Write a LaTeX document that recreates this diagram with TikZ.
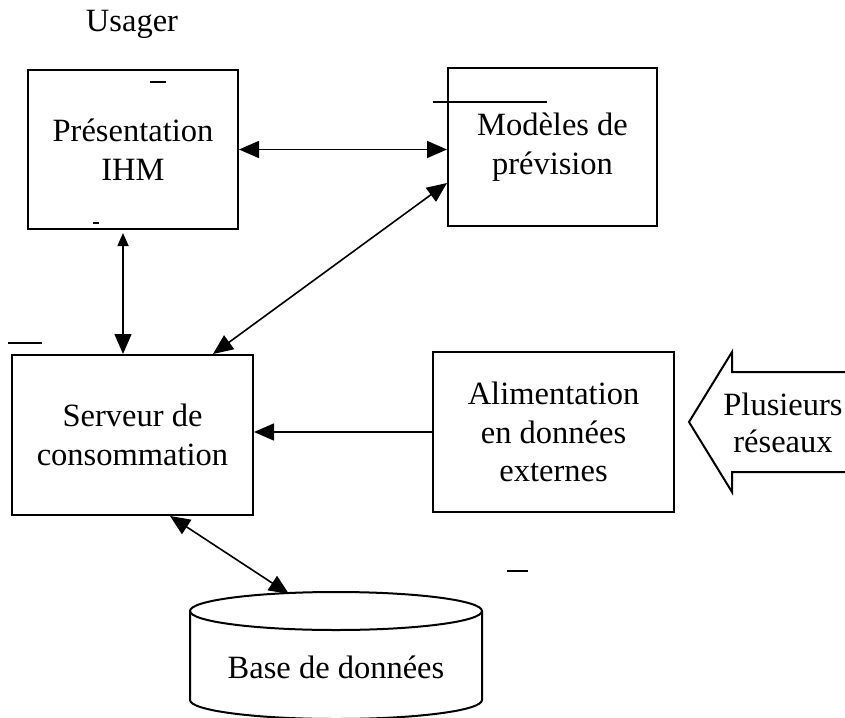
\documentclass[tikz,border=0pt]{standalone}
\usepackage{fontspec}
\setmainfont{Liberation Serif}
\usetikzlibrary{arrows.meta,calc}
\begin{document}
\begin{tikzpicture}[x=1pt,y=-1pt,
  box/.style={draw, line width=2pt, inner sep=0pt, align=center,
    font=\fontsize{32.5}{38.5}\selectfont},
  label/.style={inner sep=0pt, align=center, font=\fontsize{32.5}{37}\selectfont},
  conn/.style={line width=1.6pt},
  bigtip/.tip={Triangle[length=20pt,width=17pt]},
  smalltip/.tip={Triangle[length=13pt,width=11pt]},
  speck/.style={line width=1.4pt}]

\useasboundingbox (0,0) rectangle (845,717);
\clip (0,0) rectangle (845,717);

% title
\node[label, anchor=base] (usager) at (132,32) {Usager};

% boxes
\node[box, minimum width=210pt, minimum height=159pt] (pres) at (133,149.5)
  {Présentation\\IHM};
\node[box, minimum width=209pt, minimum height=158pt] (mod) at (552.5,147)
  {Modèles de\\prévision};
\node[box, minimum width=241pt, minimum height=160pt] (serv) at (132.5,435)
  {Serveur de\\consommation};
\node[box, minimum width=241pt, minimum height=160pt] (alim) at (553.5,432)
  {Alimentation\\en données\\externes};

% database cylinder
\draw[line width=2pt] (336,611) ellipse [x radius=146pt, y radius=19pt];
\draw[line width=2pt] (190,611) -- (190,700)
  arc[start angle=180, end angle=360, x radius=146pt, y radius=19pt]
  -- (482,611);
\node[label] (db) at (336,667) {Base de données};
\coordinate (dbtop) at (289,594);

% incoming networks arrow
\draw[line width=2pt] (860,372) -- (732,372) -- (732,352) -- (689,422)
  -- (732,492) -- (732,472) -- (860,472);
\node[label] (net) at (783,423) {Plusieurs\\réseaux};

% connectors
\draw[conn, bigtip-bigtip] (pres.east) -- (pres.east -| mod.west);
\draw[conn, smalltip-bigtip, shorten <=3pt]
  ([xshift=-10pt]pres.south) -- ([xshift=-10pt]pres.south |- serv.north);
\draw[conn, bigtip-bigtip] ([yshift=-36pt]mod.west) -- ([xshift=80.5pt]serv.north);
\draw[conn, -bigtip] (alim.west) -- (alim.west -| serv.east);
\draw[conn, bigtip-bigtip] ([xshift=37.5pt]serv.south) -- (dbtop);

% stray marks
\draw[speck] (150,82) -- (166,82);
\draw[speck] (93,223) -- (99,223);
\draw[speck] (433,102) -- (547,102);
\draw[speck] (8,343) -- (42,343);
\draw[speck] (507,571) -- (528,571);
\end{tikzpicture}
\end{document}
